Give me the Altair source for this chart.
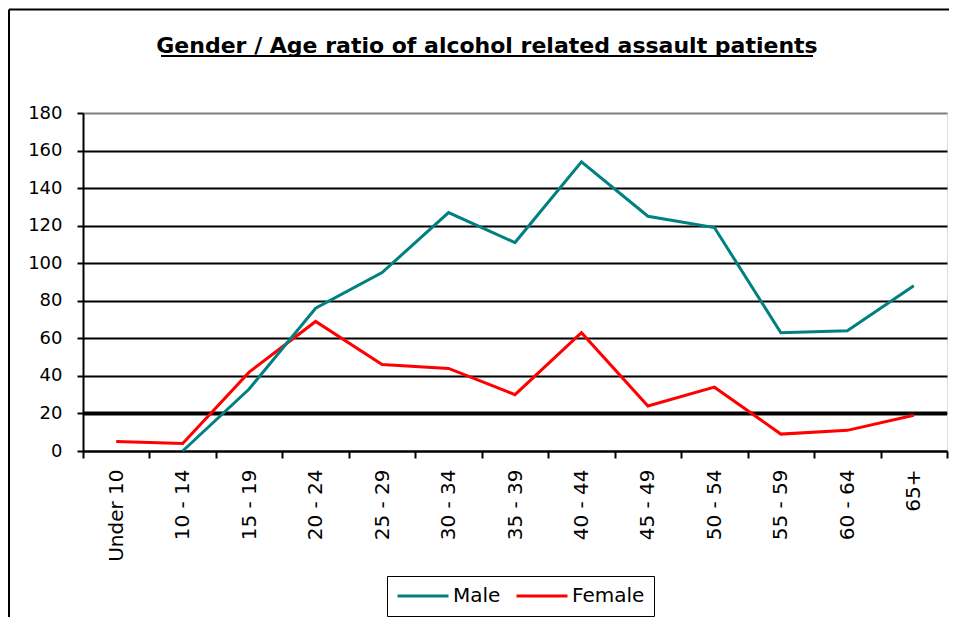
import altair as alt
import pandas as pd

categories = ["Under 10", "10 - 14", "15 - 19", "20 - 24", "25 - 29", "30 - 34", "35 - 39",
              "40 - 44", "45 - 49", "50 - 54", "55 - 59", "60 - 64", "65+"]
male = [None, 0, 33, 76, 95, 127, 111, 154, 125, 119, 63, 64, 88]
female = [5, 4, 42, 69, 46, 44, 30, 63, 24, 34, 9, 11, 19]
series_names = ["Male", "Female"]
series_colors = ["#008080", "#FF0000"]
y_ticks = [0, 20, 40, 60, 80, 100, 120, 140, 160, 180]
reference_value = [20]
title_text = ["Gender / Age ratio of alcohol related assault patients"]

rows = []
for cat, m, f in zip(categories, male, female):
    if m is not None:
        rows.append({"Age": cat, "Series": "Male", "Count": m})
    if f is not None:
        rows.append({"Age": cat, "Series": "Female", "Count": f})
df = pd.DataFrame(rows)
ref_df = pd.DataFrame({"Count": reference_value})
title_df = pd.DataFrame({"t": title_text})
deco_df = pd.DataFrame({"k": [0]})

PLOT_W = 864
PLOT_H = 338

y_enc = alt.Y(
    "Count:Q",
    scale=alt.Scale(domain=[0, 180], nice=False),
    axis=alt.Axis(
        title=None,
        values=y_ticks,
        grid=True,
        gridColor=alt.condition("datum.value == 180", alt.value("#808080"), alt.value("black")),
        gridWidth=2,
        domainColor="black",
        domainWidth=2,
        tickColor="black",
        tickWidth=2,
        tickSize=6,
        labelPadding=15,
        labelOverlap=False,
        labelFlush=False,
        labelFont="DejaVu Sans",
        labelFontSize=18,
        labelColor="black",
    ),
)

lines = alt.Chart(df).mark_line(strokeWidth=3).encode(
    x=alt.X(
        "Age:N",
        sort=categories,
        scale=alt.Scale(type="band", domain=categories, paddingInner=0, paddingOuter=0),
        axis=alt.Axis(
            title=None,
            labelAngle=270,
            tickBand="extent",
            grid=False,
            domainColor="black",
            domainWidth=2,
            tickColor="black",
            tickWidth=2,
            tickSize=7,
            labelPadding=11,
            labelOverlap=False,
            labelFont="DejaVu Sans",
            labelFontSize=20,
            labelColor="black",
        ),
    ),
    y=y_enc,
    color=alt.Color(
        "Series:N",
        scale=alt.Scale(domain=series_names, range=series_colors),
        legend=alt.Legend(
            title=None,
            orient="none",
            legendX=304,
            legendY=463,
            direction="horizontal",
            strokeColor="black",
            padding=9,
            symbolType="stroke",
            symbolSize=2600,
            symbolStrokeWidth=3,
            clipHeight=22,
            labelFont="DejaVu Sans",
            labelFontSize=20,
            labelColor="black",
            labelOffset=3,
            columnPadding=14,
        ),
    ),
    order=alt.Order("idx:Q"),
).transform_calculate(
    idx="indexof(" + str(categories).replace("'", '"') + ", datum.Age)"
)

ref_rule = alt.Chart(ref_df).mark_rule(color="black", strokeWidth=4).encode(
    y=y_enc
)

title_mark = alt.Chart(title_df).mark_text(
    font="DejaVu Sans", fontSize=22, fontWeight="bold", color="black",
    align="center", baseline="alphabetic"
).encode(text="t:N", x=alt.value(404), y=alt.value(-60))

underline = alt.Chart(deco_df).mark_rule(color="black", strokeWidth=2).encode(
    x=alt.value(78), x2=alt.value(730), y=alt.value(-57)
)
frame_top = alt.Chart(deco_df).mark_rule(color="black", strokeWidth=2).encode(
    x=alt.value(-74), x2=alt.value(PLOT_W + 2), y=alt.value(-103.5)
)
frame_left = alt.Chart(deco_df).mark_rule(color="black", strokeWidth=2).encode(
    x=alt.value(-74), y=alt.value(-103.5), y2=alt.value(PLOT_H + 170)
)

chart = alt.layer(ref_rule, lines, title_mark, underline, frame_top, frame_left).properties(
    width=PLOT_W,
    height=PLOT_H,
    autosize=alt.AutoSizeParams(type="none"),
    padding={"left": 75, "top": 105, "right": 2, "bottom": 166},
).configure_view(
    stroke="#808080", strokeWidth=2
).configure(background="white")

chart.save("out.html", embed_options={"renderer": "svg", "actions": False})
